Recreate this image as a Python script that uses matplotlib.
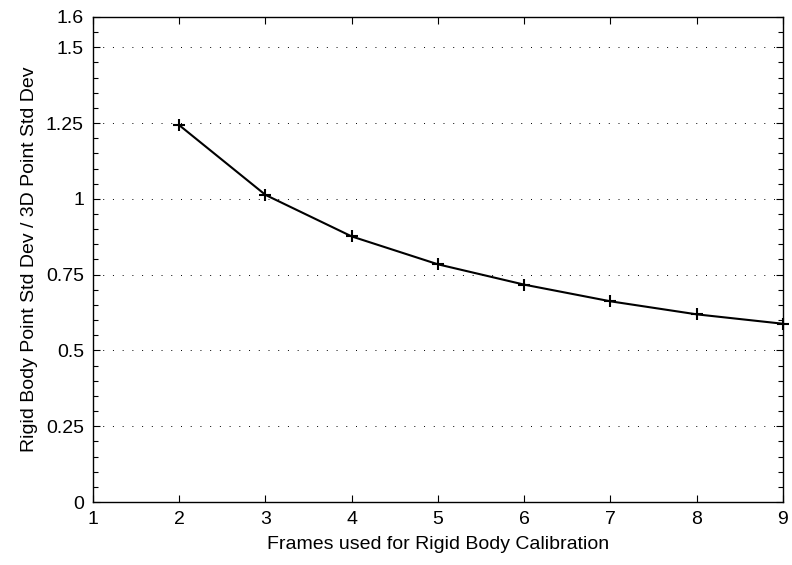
import matplotlib.pyplot as plt
import numpy as np
from matplotlib.ticker import MultipleLocator

plt.rcParams['font.family'] = ['Liberation Sans', 'DejaVu Sans']

# Data
frames = [2, 3, 4, 5, 6, 7, 8, 9]
ratio = [1.243, 1.013, 0.876, 0.784, 0.717, 0.662, 0.619, 0.588]

y_ticks = [0, 0.25, 0.5, 0.75, 1, 1.25, 1.5, 1.6]
y_labels = ['0', '0.25', '0.5', '0.75', '1', '1.25', '1.5', '1.6']
x_ticks = [1, 2, 3, 4, 5, 6, 7, 8, 9]

fig = plt.figure(figsize=(7.92, 5.65), dpi=100)
ax = fig.add_axes([0.1174, 0.1115, 0.8712, 0.8585])

ax.plot(frames, ratio, 'k-', linewidth=1.5, marker='+', markersize=9,
        markeredgewidth=1.5, clip_on=False, zorder=3)

ax.set_xlim(1, 9)
ax.set_ylim(0, 1.6)
ax.set_xticks(x_ticks)
ax.set_yticks(y_ticks)
ax.set_yticklabels(y_labels)
ax.yaxis.set_minor_locator(MultipleLocator(0.05))

# horizontal dotted grid only
for yv in y_ticks[1:-1]:
    ax.axhline(yv, color='k', linewidth=0.7, linestyle=(0, (1, 9)), zorder=1)

ax.tick_params(which='both', direction='in', top=True, right=True,
               labelsize=14, width=0.8, pad=6.5)
ax.tick_params(which='major', length=5)
ax.tick_params(which='minor', length=3.5)
for s in ax.spines.values():
    s.set_linewidth(1.0)

ax.set_xlabel('Frames used for Rigid Body Calibration', fontsize=14, labelpad=6)
ax.set_ylabel('Rigid Body Point Std Dev / 3D Point Std Dev', fontsize=14, labelpad=6)

fig.savefig('out.png', dpi=100)
